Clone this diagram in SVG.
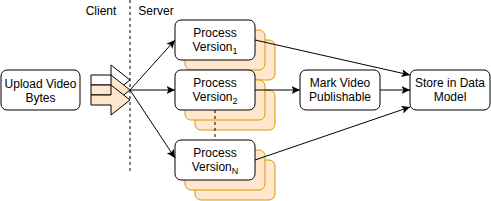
<svg xmlns="http://www.w3.org/2000/svg" width="491" height="201" viewBox="0 0 491 201">
<style>
.box{fill:#ffffff;stroke:#000000;stroke-width:1}
.back{fill:#ffe6cc;stroke:#d79b00;stroke-width:1}
.t{font-family:"Liberation Sans",Arial,sans-serif;font-size:12px;fill:#000000;text-anchor:middle}
.sub{font-size:9px}
.edge{fill:none;stroke:#000000;stroke-width:1}
.dash{fill:none;stroke:#000000;stroke-width:1;stroke-dasharray:3,3}
.fa{stroke:#000000;stroke-width:1}
</style>
<defs>
<marker id="arr" markerUnits="userSpaceOnUse" markerWidth="9" markerHeight="9" viewBox="0 0 9 9" refX="8.5" refY="4.5" orient="auto">
<path d="M0,0.5 L8.5,4.5 L0,8.5 L2,4.5 z" fill="#000000"/>
</marker>
</defs>
<rect width="491" height="201" fill="#ffffff"/>
<g id="divider">
<line class="dash" x1="130" y1="0" x2="130" y2="171"/>
<text class="t" x="101" y="15">Client</text>
<text class="t" x="156" y="15">Server</text>
</g>
<g id="upload">
<rect class="box" x="1" y="70" width="79" height="40" rx="6"/>
<text class="t" x="40.5" y="88">Upload Video</text>
<text class="t" x="40.5" y="102">Bytes</text>
</g>
<g id="flex-arrows">
<polygon class="fa" fill="#ffffff" points="91,75 111,75 111,65 130,80 111,95 111,85 91,85"/>
<polygon class="fa" fill="#ffe6cc" points="91,85 111,85 111,75 130,90 111,105 111,95 91,95"/>
<polygon class="fa" fill="#ffe6cc" points="91,95 111,95 111,85 130,100 111,115 111,105 91,105"/>
</g>
<g id="pv1">
<rect class="back" x="195" y="40" width="80" height="40" rx="6"/>
<rect class="back" x="185" y="30" width="80" height="40" rx="6"/>
<rect class="box" x="175" y="20" width="80" height="40" rx="6"/>
<text class="t" x="215" y="37">Process</text>
<text class="t" x="215" y="51">Version<tspan class="sub" dy="3">1</tspan></text>
</g>
<g id="pv2">
<rect class="back" x="195" y="90" width="80" height="40" rx="6"/>
<rect class="back" x="185" y="80" width="80" height="40" rx="6"/>
<rect class="box" x="175" y="70" width="80" height="40" rx="6"/>
<text class="t" x="215" y="87">Process</text>
<text class="t" x="215" y="101">Version<tspan class="sub" dy="3">2</tspan></text>
</g>
<g id="pvn">
<rect class="back" x="195" y="160" width="80" height="40" rx="6"/>
<rect class="back" x="185" y="150" width="80" height="40" rx="6"/>
<rect class="box" x="175" y="140" width="80" height="40" rx="6"/>
<text class="t" x="215" y="157">Process</text>
<text class="t" x="215" y="171">Version<tspan class="sub" dy="3">N</tspan></text>
</g>
<g id="mark">
<rect class="box" x="300" y="70" width="80" height="40" rx="6"/>
<text class="t" x="340" y="87">Mark Video</text>
<text class="t" x="340" y="101">Publishable</text>
</g>
<g id="store">
<rect class="box" x="410" y="70" width="80" height="40" rx="6"/>
<text class="t" x="450" y="87">Store in Data</text>
<text class="t" x="450" y="101">Model</text>
</g>
<g id="connectors">
<line class="edge" x1="130" y1="90" x2="175" y2="40" marker-end="url(#arr)"/>
<line class="edge" x1="130" y1="90" x2="175" y2="90" marker-end="url(#arr)"/>
<line class="edge" x1="130" y1="90" x2="175" y2="158" marker-end="url(#arr)"/>
<line class="dash" x1="215" y1="110" x2="215" y2="140"/>
<line class="edge" x1="255" y1="40" x2="410" y2="75" marker-end="url(#arr)"/>
<line class="edge" x1="255" y1="90" x2="300" y2="90" marker-end="url(#arr)"/>
<line class="edge" x1="380" y1="90" x2="410" y2="90" marker-end="url(#arr)"/>
<line class="edge" x1="255" y1="160" x2="410" y2="107" marker-end="url(#arr)"/>
</g>
</svg>
